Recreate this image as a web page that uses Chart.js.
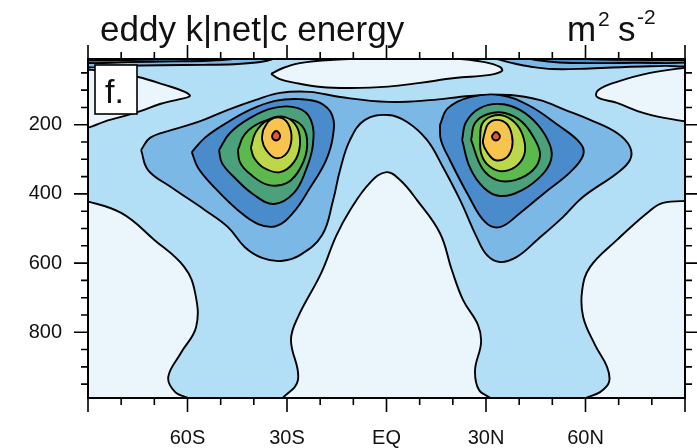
<!DOCTYPE html>
<html>
<head>
<meta charset="utf-8">
<script src="https://cdn.jsdelivr.net/npm/chart.js@4/dist/chart.umd.min.js"></script>
<style>
  html, body { margin: 0; padding: 0; background: #fff; }
</style>
</head>
<body>
<canvas id="myChart" width="697" height="448"></canvas>
<script>
// axis ticks
const latTicks = [-60, -30, 0, 30, 60];
const latLabels = ['60S', '30S', 'EQ', '30N', '60N'];
const pressureTicks = [200, 400, 600, 800];

// contour fill colours, lowest level first
const levelColors = ['#EAF6FC', '#B2DFF6', '#7CB8E6', '#4A8BCB', '#4BA17B', '#5CB94C', '#BDD74B', '#F7C54D', '#DF5A2C'];

// contour outlines, [latitude, pressure hPa]
const paleSouthLow = [[-92, 416], [-80, 455], [-70, 533], [-61, 611], [-57.7, 686], [-57.4, 785], [-62, 860], [-65.8, 929], [-63.7, 973], [-59, 995], [-60, 1012], [-92, 1012]];
const paleEquator = [[-31.8, 995], [-26.7, 938], [-28.8, 822], [-26.7, 756], [-19.7, 629], [-15.2, 522], [-11, 447], [-5, 368], [0, 337], [4.1, 360], [9.2, 418], [16.1, 513], [19.7, 620], [23.1, 707], [27.6, 779], [28.5, 831], [26.7, 909], [27.9, 967], [31.8, 995], [31, 1012], [-31, 1012]];
const paleNorthLow = [[92, 420], [83.4, 426], [78.6, 455], [69.5, 533], [61.4, 611], [59, 678], [59.3, 756], [62.9, 837], [66.5, 900], [67.1, 944], [64.4, 973], [59.3, 995], [60, 1012], [92, 1012]];
const paleTopCentre = [[-34.8, 53], [-31.2, 36], [-26.1, 22], [-17, 13], [0, 8], [20.6, 9], [29.6, 19], [34.2, 33], [34.8, 45], [31.2, 56], [20.6, 65], [10.1, 79], [0.5, 90], [-11, 94], [-19.7, 91], [-27.6, 79], [-32.2, 68]];
const paleTopSouth = [[-92, 38], [-83.4, 48], [-74.9, 62], [-66.8, 85], [-60.8, 105], [-59.3, 117], [-62.3, 126], [-68.3, 140], [-74.9, 163], [-83.4, 186], [-92, 202]];
const paleTopNorth = [[92, 33], [79.5, 50], [69.5, 76], [63.8, 100], [63.5, 120], [69.5, 137], [77.4, 166], [85.5, 183], [92, 181]];

const mediumBridge = [[-74, 273], [-71.3, 238], [-64.7, 215], [-56.8, 192], [-47.8, 157], [-39.6, 129], [-32.1, 108], [-23.1, 105], [-14, 120], [0.5, 134], [13.1, 129], [25.2, 117], [37.3, 114], [46.3, 129], [53.8, 157], [61.4, 186], [69.5, 224], [73.4, 264], [73.4, 302], [69.5, 340], [59.2, 409], [53.2, 467], [45.4, 533], [39.3, 582], [34.2, 597], [30.3, 577], [27.3, 527], [22.2, 418], [17, 322], [12.2, 244], [6.2, 192], [0.5, 172], [-6.5, 186], [-11, 244], [-14, 331], [-16.1, 418], [-19.4, 519], [-26.1, 577], [-31.8, 594], [-37.5, 585], [-42.7, 554], [-47.8, 496], [-54.7, 447], [-65, 380], [-71.9, 331]];

const topBandSouth3 = [[-92, 4], [-92, 31], [-80, 30], [-68, 28], [-55, 27], [-46, 25], [-40, 21], [-36, 15], [-34, 9], [-34, 4]];
const topBandSouth4 = [[-92, 4], [-92, 20], [-78, 19], [-64, 17], [-54, 15], [-47, 11], [-44, 4]];
const topBandSouth5 = [[-92, 4], [-92, 13], [-75, 12], [-62, 9], [-58, 4]];
const topBandNorth3 = [[30, 4], [34, 12], [38, 22], [44, 33], [50, 39], [60, 38], [72, 33], [84, 30], [92, 28], [92, 4]];
const topBandNorth4 = [[40, 4], [45, 13], [52, 20], [62, 22], [75, 21], [92, 19], [92, 4]];
const topBandNorth5 = [[55, 4], [62, 11], [75, 12], [92, 12], [92, 4]];

const jetSouth4 = [[-58.7, 279], [-54.8, 238], [-48.8, 198], [-41.2, 157], [-33.6, 131], [-26.1, 126], [-20, 137], [-16.4, 172], [-16.1, 230], [-18.2, 302], [-23.1, 383], [-28.2, 455], [-33.3, 493], [-38.7, 487], [-44.8, 447], [-51.7, 383], [-56.8, 325]];
const jetSouth5 = [[-50.5, 273], [-47.2, 224], [-41.2, 181], [-34.2, 152], [-26.7, 152], [-22.8, 186], [-22.2, 259], [-24.3, 331], [-27.9, 397], [-33.9, 429], [-39.9, 403], [-45.7, 354], [-49.6, 311]];
const jetSouth6 = [[-44.8, 273], [-42.7, 227], [-37.5, 192], [-30.6, 181], [-25.4, 204], [-23.9, 259], [-25.8, 322], [-30, 368], [-35.7, 374], [-41.2, 342], [-44.2, 308]];
const jetSouth7 = [[-40.9, 267], [-39.4, 221], [-35.7, 186], [-30.6, 178], [-27, 207], [-26.1, 259], [-27.9, 308], [-32.1, 337], [-36.9, 325], [-39.9, 296]];
const jetSouth8 = [[-37.2, 215], [-35.1, 186], [-31.5, 181], [-29.1, 209], [-28.8, 253], [-30.6, 288], [-33.6, 296], [-36.3, 273], [-37.5, 244]];
const jetSouth9 = [[-34.2, 224], [-33.3, 218], [-32.4, 224], [-32.1, 235], [-32.7, 244], [-33.9, 244], [-34.5, 235]];

const jetNorth4 = [[16.1, 201], [18.5, 152], [25.2, 120], [34.2, 114], [42.7, 143], [51.7, 201], [58.4, 253], [59.3, 288], [55.4, 337], [47.9, 395], [40.3, 455], [34.2, 496], [29.7, 481], [24.6, 403], [19.1, 302], [16.4, 244]];
const jetNorth5 = [[22.8, 244], [24, 192], [28.2, 152], [34.2, 140], [40.2, 157], [45.7, 201], [49.3, 259], [49.6, 302], [46.9, 345], [40.9, 389], [34.2, 406], [29.4, 383], [25.2, 325]];
const jetNorth6 = [[25.5, 244], [26.7, 195], [30.6, 169], [35.7, 166], [40.9, 192], [44.8, 244], [46.3, 288], [44.2, 331], [38.8, 360], [33.3, 360], [28.8, 325]];
const jetNorth7 = [[28.2, 244], [28.8, 198], [31.8, 175], [35.7, 175], [39.4, 201], [41.5, 244], [41.5, 288], [38.8, 322], [34.2, 334], [30.3, 314], [28.5, 282]];
const jetNorth8 = [[29.4, 230], [30.6, 198], [33.3, 186], [36.3, 198], [37.8, 230], [37.8, 267], [36, 296], [32.7, 302], [30.3, 279], [29.1, 253]];
const jetNorth9 = [[32.1, 227], [33, 221], [33.9, 227], [34.2, 235], [33.6, 244], [32.4, 244], [31.8, 235]];

// painted from the bottom up: [outline, level index]
const regions = [
  [paleSouthLow, 0], [paleEquator, 0], [paleNorthLow, 0],
  [paleTopCentre, 0], [paleTopSouth, 0], [paleTopNorth, 0],
  [mediumBridge, 2],
  [topBandSouth3, 2], [topBandNorth3, 2],
  [topBandSouth4, 3], [topBandNorth4, 3],
  [topBandSouth5, 4], [topBandNorth5, 4],
  [jetSouth4, 3], [jetNorth4, 3],
  [jetSouth5, 4], [jetNorth5, 4],
  [jetSouth6, 5], [jetNorth6, 5],
  [jetSouth7, 6], [jetNorth7, 6],
  [jetSouth8, 7], [jetNorth8, 7],
  [jetSouth9, 8], [jetNorth9, 8],
];

const FONT = '"Liberation Sans", Arial, sans-serif';

const frame = {
  id: 'frame',
  beforeDatasetsDraw(chart) {
    const { ctx, chartArea: a } = chart;
    ctx.save();
    ctx.fillStyle = levelColors[1];
    ctx.fillRect(a.left, a.top, a.right - a.left, a.bottom - a.top);
    ctx.restore();
  },
  afterDraw(chart) {
    const { ctx, chartArea: a, scales: { x, y } } = chart;
    ctx.save();
    ctx.strokeStyle = '#000';
    ctx.lineWidth = 1.6;
    ctx.beginPath();
    for (let lat = -90; lat <= 90; lat += 10) {
      const px = x.getPixelForValue(lat);
      const len = lat % 30 === 0 ? 14 : 7;
      ctx.moveTo(px, a.bottom); ctx.lineTo(px, a.bottom + len);
      ctx.moveTo(px, a.top); ctx.lineTo(px, a.top - len);
    }
    for (let p = 50; p < 990; p += 50) {
      const py = y.getPixelForValue(p);
      const len = p % 200 === 0 ? 14 : 7;
      ctx.moveTo(a.left - len, py); ctx.lineTo(a.left, py);
      ctx.moveTo(a.right, py); ctx.lineTo(a.right + len, py);
    }
    ctx.stroke();
    ctx.lineWidth = 2;
    ctx.strokeRect(a.left, a.top, a.right - a.left, a.bottom - a.top);

    // panel label
    ctx.fillStyle = '#fff';
    ctx.fillRect(95, 65, 42, 49);
    ctx.lineWidth = 1.6;
    ctx.strokeRect(95, 65, 42, 49);
    ctx.fillStyle = '#111';
    ctx.font = '34px ' + FONT;
    ctx.fillText('f.', 105, 103);

    // title and units
    ctx.font = '35px ' + FONT;
    ctx.fillText('eddy k|net|c energy', 100, 41);
    ctx.fillText('m', 567, 41);
    ctx.fillText('s', 618, 41);
    ctx.font = '21px ' + FONT;
    ctx.fillText('2', 598, 26);
    ctx.fillText('-2', 637, 24);
    ctx.restore();
  }
};

new Chart(document.getElementById('myChart').getContext('2d'), {
  type: 'line',
  data: {
    datasets: regions.map(([pts, level], i) => ({
      data: pts.concat([pts[0]]).map(([lat, p]) => ({ x: lat, y: p })),
      backgroundColor: levelColors[level],
      borderColor: '#000',
      borderWidth: 1.9,
      fill: 'shape',
      pointRadius: 0,
      tension: 0.4,
      order: regions.length - i,
    })),
  },
  options: {
    responsive: false,
    animation: false,
    devicePixelRatio: 1,
    layout: { padding: { top: 59, right: 12, left: 0, bottom: 0 } },
    plugins: { legend: { display: false }, tooltip: { enabled: false } },
    scales: {
      x: {
        type: 'linear',
        min: -90,
        max: 90,
        afterBuildTicks: s => { s.ticks = latTicks.map(v => ({ value: v })); },
        afterFit: s => { s.height = 50; },
        ticks: {
          callback: (v, i) => latLabels[i],
          font: { family: FONT, size: 20 },
          color: '#111',
          padding: 14,
          maxRotation: 0,
        },
        grid: { drawOnChartArea: false, tickLength: 14, color: 'rgba(0,0,0,0)' },
        border: { display: false },
      },
      y: {
        type: 'linear',
        min: 10,
        max: 990,
        reverse: true,
        afterBuildTicks: s => { s.ticks = pressureTicks.map(v => ({ value: v })); },
        afterFit: s => { s.width = 88; },
        ticks: {
          callback: v => String(v),
          font: { family: FONT, size: 20 },
          color: '#111',
          padding: 12,
        },
        grid: { drawOnChartArea: false, tickLength: 14, color: 'rgba(0,0,0,0)' },
        border: { display: false },
      },
    },
  },
  plugins: [frame],
});
</script>
</body>
</html>
